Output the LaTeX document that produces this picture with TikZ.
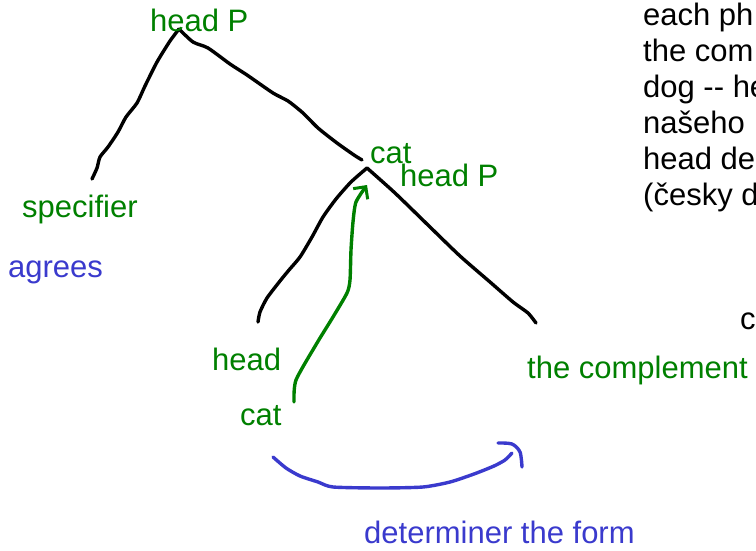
\documentclass[tikz,border=0pt]{standalone}
\usepackage{fontspec}
\setmainfont{Liberation Sans}
\usetikzlibrary{arrows.meta}

\definecolor{lblgreen}{RGB}{0,128,0}
\definecolor{lblblue}{RGB}{58,58,205}

\begin{document}
\begin{tikzpicture}[x=1pt,y=-1pt,
    lbl/.style={text=lblgreen, font=\fontsize{31}{35}\selectfont, inner sep=0pt, anchor=base west},
    note/.style={text=lblblue, font=\fontsize{31}{35}\selectfont, inner sep=0pt, anchor=base west},
    txt/.style={text=black, font=\fontsize{31}{35}\selectfont, inner sep=0pt, anchor=base west},
    pen/.style={line width=3.4pt, line cap=round, line join=round}]
    \useasboundingbox (0,0) rectangle (756,550);
    \clip (0,0) rectangle (756,550);

    % Tree points
    \coordinate (topP) at (179,29);
    \coordinate (specEnd) at (92,179);
    \coordinate (midEnd) at (362,160);
    \coordinate (catP) at (367,168);
    \coordinate (headEnd) at (258,322);
    \coordinate (compEnd) at (536,323);

    % Upper branches
    \draw[pen] plot[smooth, tension=0.4] coordinates {(topP) (170,41) (157,62) (145,86) (137,103) (126,117) (118,132) (108,147) (100,157) (97,168) (specEnd)};
    \draw[pen] plot[smooth, tension=0.4] coordinates {(topP) (193,42) (208,48) (230,64) (247,75) (273,93) (288,101) (303,113) (318,128) (337,143) (354,155) (midEnd)};

    % Lower branches
    \draw[pen] plot[smooth, tension=0.4] coordinates {(catP) (351,182) (336,199) (323,217) (312,237) (300,257) (289,270) (280,281) (267,298) (260,312) (headEnd)};
    \draw[pen] plot[smooth, tension=0.4] coordinates {(catP) (395,193) (430,227) (460,256) (490,282) (513,302) (528,313) (compEnd)};

    % Green arrow from the lower cat up to the head
    \coordinate (catFoot) at (294,402);
    \coordinate (catTip) at (367,185);
    \draw[pen, lblgreen, -{Straight Barb[length=9pt, width=18pt, line width=3pt]}]
        plot[smooth, tension=0.4] coordinates {(catFoot) (296,380) (317,343) (333,317) (347,293) (350,280) (351,250) (353,222) (356,202) (catTip)};

    % Blue bracket below
    \draw[pen, lblblue] plot[smooth, tension=0.4] coordinates {(273,457) (286,468) (300,476) (318,482) (333,487) (380,488) (423,487) (450,482) (474,474) (494,466) (505,460) (512,453)};
    \draw[pen, lblblue] plot[smooth, tension=0.5] coordinates {(498,443) (512,444) (520,452) (522,467)};

    % Labels
    \node[lbl] (headTop) at (150,31) {head P};
    \node[lbl] (spec) at (22,217) {specifier};
    \node[note] (agrees) at (8,277) {agrees};
    \node[lbl] (catUp) at (370,163) {cat};
    \node[lbl] (headMid) at (400,186) {head P};
    \node[lbl] (head) at (212,370) {head};
    \node[lbl] (catLow) at (240,425) {cat};
    \node[lbl] (compl) at (527,378) {the complement};
    \node[note] (detForm) at (364,543) {determiner the form};

    % Side notes (cut at the right edge)
    \node[txt] (r1) at (643,25) {each ph};
    \node[txt] (r2) at (643,61) {the com};
    \node[txt] (r3) at (643,97) {dog -{}- he};
    \node[txt] (r4) at (643,133) {našeho};
    \node[txt] (r5) at (643,169) {head de};
    \node[txt] (r6) at (643,205) {(česky d};
    \node[txt] (r7) at (740,329) {c};
\end{tikzpicture}
\end{document}
